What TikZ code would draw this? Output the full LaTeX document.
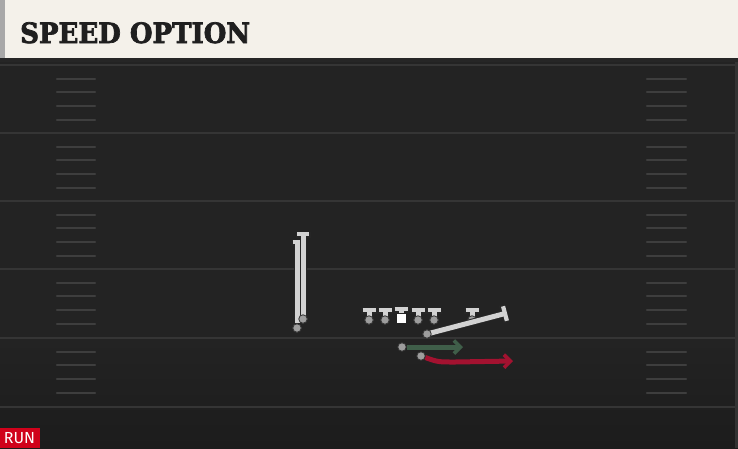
\documentclass[tikz,border=0pt]{standalone}
\usepackage{fontspec}
\setsansfont{Fira Sans}
\newfontfamily\titlefont[FakeBold=2.5]{DejaVu Serif Bold}
\usetikzlibrary{arrows.meta}

\definecolor{fieldbg}{HTML}{232323}
\definecolor{fielddark}{HTML}{1C1C1C}
\definecolor{yardgray}{HTML}{353535}
\definecolor{hashgray}{HTML}{3E3E3E}
\definecolor{headercream}{HTML}{F4F1EA}
\definecolor{headeredge}{HTML}{A8A8A8}
\definecolor{playergray}{HTML}{D2D2D2}
\definecolor{routegreen}{HTML}{3F5E49}
\definecolor{routered}{HTML}{A31230}
\definecolor{runred}{HTML}{D0021B}

\tikzset{
  yardline/.style={draw=yardgray, line width=2.2pt},
  hashmark/.style={draw=hashgray, line width=2.4pt, line cap=round},
  player/.style={circle, fill=playergray!75!black, draw=black!80, line width=0.8pt, inner sep=0pt, minimum size=8.5pt},
  centerbox/.style={rectangle, fill=white, inner sep=0pt, minimum size=9pt},
  blockedge/.style={draw=black!85, line width=7pt, -{Bar[width=#1+3pt, line width=6pt]}},
  block/.style={draw=playergray, line width=5pt, -{Bar[width=#1, line width=4.2pt]}},
  arrowroute/.style={line width=5pt, -{Straight Barb[length=6.5pt, width=13pt, line width=3.6pt]}},
}
\newcommand\blk[3]{%
  \draw[blockedge=#3] (#1) -- (#2);
  \draw[block=#3] (#1) -- (#2);}

\begin{document}
\begin{tikzpicture}[x=1pt, y=-1pt]
  \useasboundingbox (0,0) rectangle (738,448);
  % field
  \fill[fieldbg] (0,0) rectangle (738,448);
  \shade[top color=fieldbg, bottom color=fielddark] (0,340) rectangle (738,448);
  \fill[black!80] (735,60) rectangle (738,448);
  \foreach \y in {65,133,201,269,338,407}
    \draw[yardline] (0,\y) -- (735,\y);
  \foreach \y in {65,133,201,269,338} {
    \foreach \d in {14,27,41,55} {
      \draw[hashmark] (57,\y+\d) -- (95,\y+\d);
      \draw[hashmark] (647,\y+\d) -- (686,\y+\d);
    }
  }

  % header
  \fill[headercream] (0,0) rectangle (738,58);
  \fill[headeredge] (0,0) rectangle (5,58);
  \fill[black!85] (0,58) rectangle (738,62);
  \node[anchor=base west, inner sep=0pt, text=black!88, font=\titlefont\fontsize{28}{28}\selectfont, xscale=0.93] (title) at (20,43) {SPEED OPTION};

  % backfield motion
  \node[player] (qb) at (297,328) {};
  \node[player] (wing) at (303,319) {};
  \coordinate (qbtop) at (297,240);
  \coordinate (wingtop) at (303,232);
  \blk{qb}{qbtop}{9pt}
  \blk{wing.center}{wingtop}{12pt}
  \node[player] at (qb) {};
  \node[player] at (wing) {};

  % line
  \foreach \x/\n in {369/lt,385/lg,418/rg,434/rt,472/te} {
    \node[player] (\n) at (\x,320) {};
    \coordinate (\n top) at (\x,308);
    \blk{\n.center}{\n top}{13pt}
    \node[player] at (\n) {};
  }
  \node[centerbox] (c) at (401,318) {};
  \coordinate (ctop) at (401,307);
  \blk{c.north}{ctop}{13pt}

  % routes
  \node[player] (rb) at (427,334) {};
  \coordinate (rbend) at (507,313);
  \blk{rb.center}{rbend}{15pt}
  \node[player] at (rb) {};

  \node[player] (fb) at (402,347) {};
  \coordinate (fbend) at (463,347);
  \draw[arrowroute, draw=routegreen] (fb) -- (fbend);

  \node[player] (hb) at (421,356) {};
  \coordinate (hbend) at (513,361);
  \draw[arrowroute, draw=routered] (hb) .. controls (438,362) .. (455,362) -- (hbend);

  % tag
  \fill[runred] (0,428) rectangle (40,448);
  \node[text=white, font=\sffamily\fontsize{16}{16}\selectfont, inner sep=0pt] (tag) at (19.5,438.5) {RUN};
\end{tikzpicture}
\end{document}
